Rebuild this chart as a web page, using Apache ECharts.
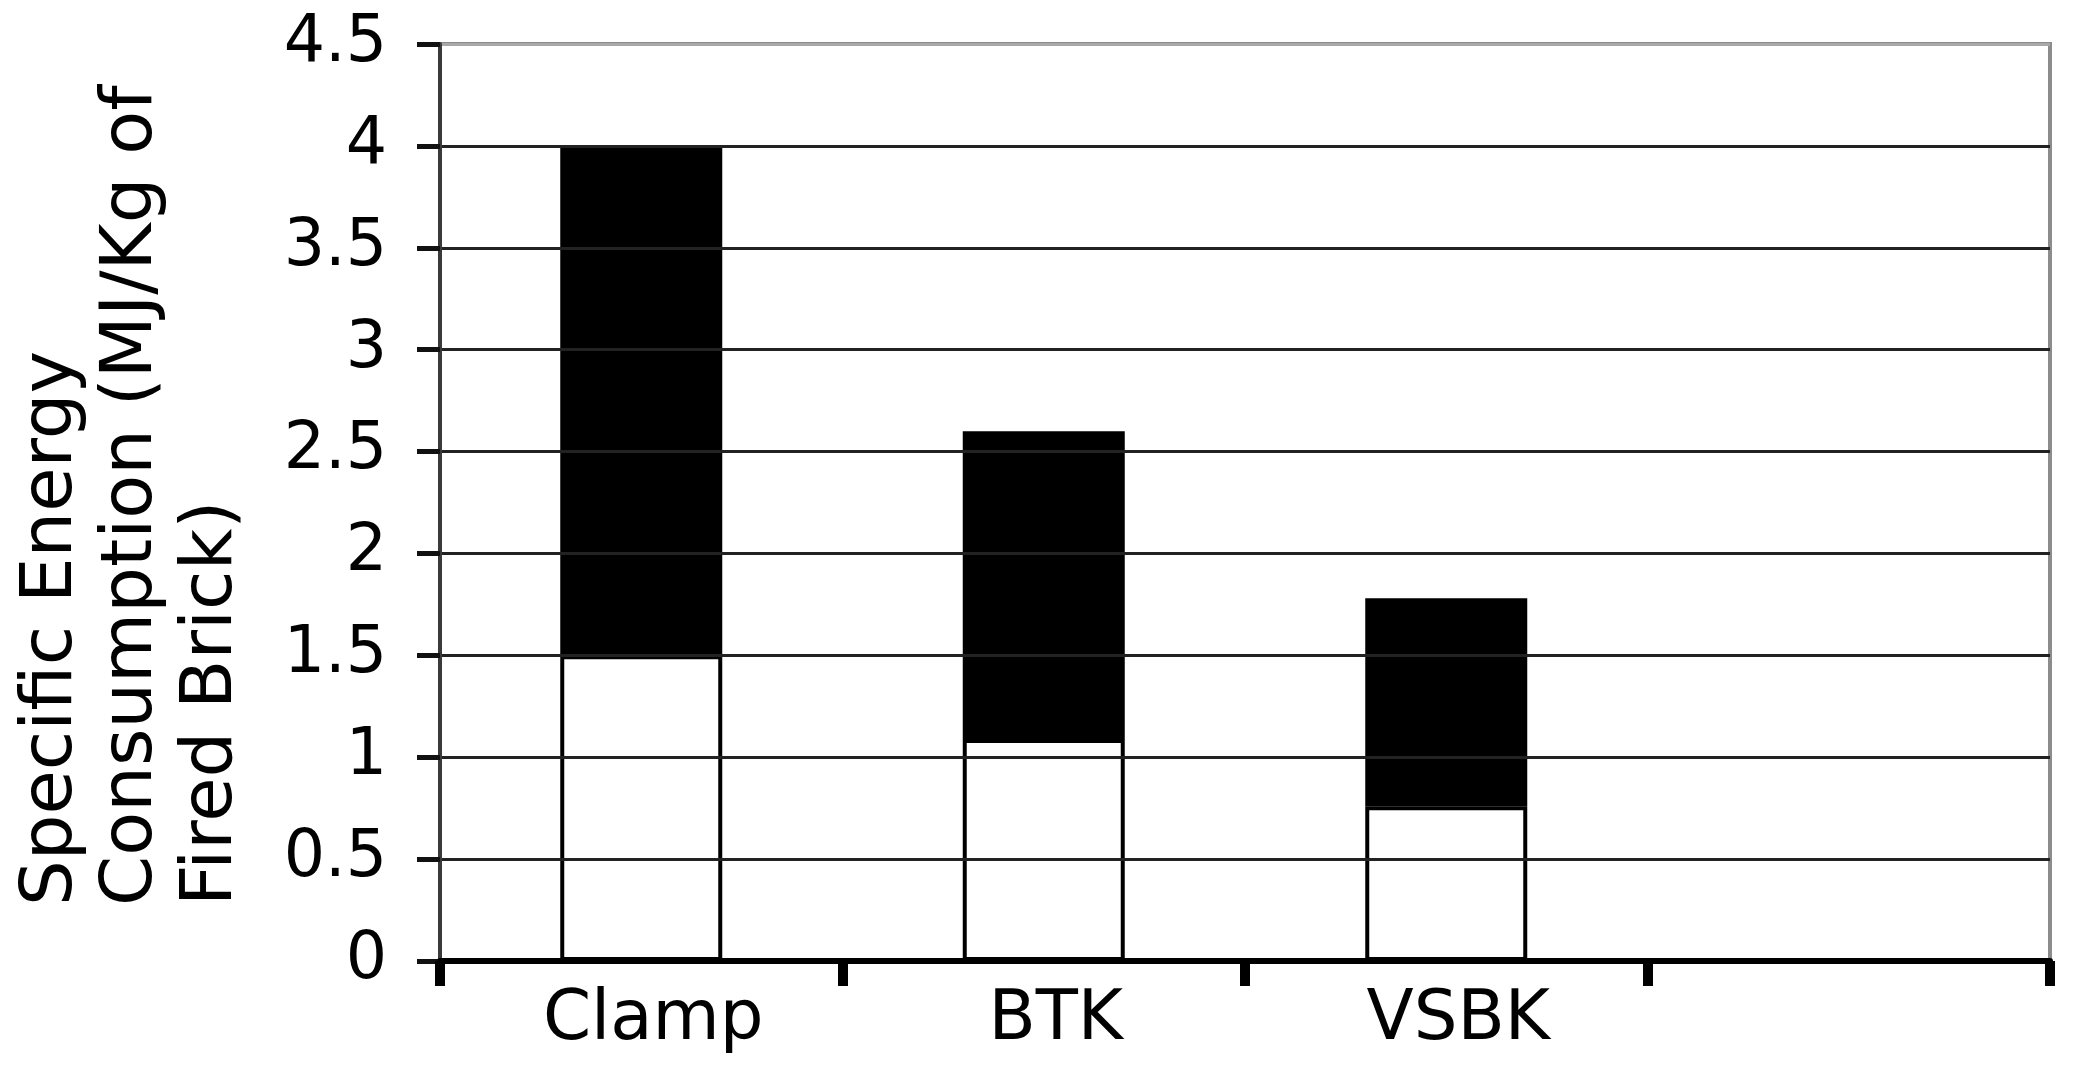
<!DOCTYPE html>
<html>
<head>
<meta charset="utf-8">
<script src="https://cdn.jsdelivr.net/npm/echarts@6/dist/echarts.min.js"></script>
<style>
html,body{margin:0;padding:0;background:#fff;}
#chart{width:2089px;height:1080px;}
</style>
</head>
<body>
<div id="chart"></div>
<script>
var categories = ['Clamp', 'BTK', 'VSBK', ''];
var lowerValues = [1.5, 1.09, 0.76, null];
var upperValues = [2.5, 1.51, 1.02, null];
var yTickMax = 4.5;
var yTickStep = 0.5;
var yTitleLines = ['Specific Energy', 'Consumption (MJ/Kg of', 'Fired Brick)'];

var FONT = '"DejaVu Sans", "Liberation Sans", Arial, sans-serif';
var splitColors = [];
for (var i = 0; i <= yTickMax / yTickStep; i++) splitColors.push('#222222');
splitColors[splitColors.length - 1] = '#a8a8a8';

var chart = echarts.init(document.getElementById('chart'), null, {renderer: 'canvas'});
chart.setOption({
  animation: false,
  backgroundColor: '#ffffff',
  grid: {
    left: 440, right: 39, top: 44, bottom: 119,
    show: true, borderColor: '#8c8c8c', borderWidth: 4, backgroundColor: 'transparent'
  },
  xAxis: {
    type: 'category',
    data: categories,
    boundaryGap: true,
    axisLine: {show: true, lineStyle: {color: '#000', width: 6}},
    axisTick: {show: true, alignWithLabel: false, length: 25, lineStyle: {color: '#000', width: 10}},
    axisLabel: {
      color: '#000', fontFamily: FONT, fontSize: 69, margin: 26,
      padding: [0, 0, 0, 24]
    },
    splitLine: {show: false},
    z: 5
  },
  yAxis: {
    type: 'value',
    min: 0, max: yTickMax, interval: yTickStep,
    axisLine: {show: true, lineStyle: {color: '#3a3a3a', width: 4}},
    axisTick: {show: true, inside: false, length: 23, lineStyle: {color: '#111', width: 5}},
    axisLabel: {
      color: '#000', fontFamily: FONT, fontSize: 65, margin: 53,
      formatter: function (v) { return String(v); }
    },
    splitLine: {show: true, lineStyle: {color: splitColors, width: 3}},
    z: 4
  },
  series: [
    {
      name: 'lower', type: 'bar', stack: 'total', data: lowerValues,
      barWidth: 162,
      itemStyle: {color: '#ffffff', borderColor: '#000', borderWidth: 4},
      z: 3
    },
    {
      name: 'upper', type: 'bar', stack: 'total', data: upperValues,
      barWidth: 162,
      itemStyle: {color: '#000000', borderColor: '#000', borderWidth: 2},
      z: 3
    }
  ],
  graphic: [{
    type: 'text',
    x: 132, y: 906,
    rotation: Math.PI / 2,
    style: {
      text: yTitleLines.join('\n'),
      font: '72px ' + FONT,
      fill: '#000',
      align: 'left',
      verticalAlign: 'middle',
      lineHeight: 80
    }
  }]
});
</script>
</body>
</html>
